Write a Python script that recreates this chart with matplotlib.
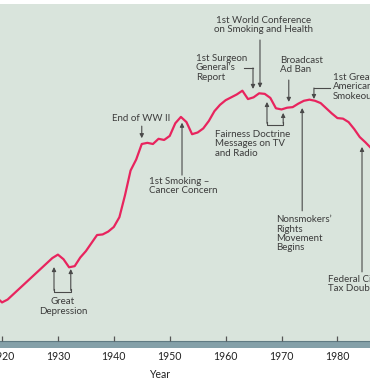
import matplotlib.pyplot as plt

# per capita cigarette consumption
years = [1919, 1920, 1921, 1922, 1923, 1924, 1925, 1926, 1927, 1928, 1929,
         1930, 1931, 1932, 1933, 1934, 1935, 1936, 1937, 1938, 1939,
         1940, 1941, 1942, 1943, 1944, 1945, 1946, 1947, 1948, 1949,
         1950, 1951, 1952, 1953, 1954, 1955, 1956, 1957, 1958, 1959,
         1960, 1961, 1962, 1963, 1964, 1965, 1966, 1967, 1968, 1969,
         1970, 1971, 1972, 1973, 1974, 1975, 1976, 1977, 1978, 1979,
         1980, 1981, 1982, 1983, 1984, 1985, 1986]
consumption = [760, 670, 720, 810, 900, 990, 1080, 1170, 1260, 1350, 1440,
               1500, 1420, 1280, 1300, 1450, 1560, 1700, 1840, 1850, 1900,
               1980, 2150, 2530, 2960, 3150, 3420, 3440, 3420, 3510, 3490,
               3560, 3780, 3890, 3800, 3590, 3620, 3690, 3820, 3990, 4100,
               4180, 4230, 4280, 4345, 4200, 4230, 4300, 4290, 4220, 4040,
               4020, 4050, 4060, 4120, 4170, 4190, 4170, 4130, 4040, 3950,
               3870, 3860, 3800, 3680, 3540, 3450, 3350]
tick_years = [1920, 1930, 1940, 1950, 1960, 1970, 1980]
tick_labels = ['1920', '1930', '1940', '1950', '1960', '1970', '1980']

BG = '#d9e4dc'
LINE = '#e8245e'
INK = '#3c3c3c'
ARROW = '#4a4a4a'
FONT = 'Lato'

fig = plt.figure(figsize=(3.7, 3.86), dpi=100)
ax = fig.add_axes([0, 38 / 386, 1, 344 / 386])
ax.set_facecolor(BG)
ax.set_xlim(1919.64, 1985.83)
ax.set_ylim(-121, 5850)
for s in ax.spines.values():
    s.set_visible(False)
ax.set_xticks([])
ax.set_yticks([])

# axis band and ticks
ax.axhspan(-121, 0, color='#84a0a8', lw=0)
ax.axhline(0, color='#5f7a82', lw=0.8)
ax.vlines(tick_years, 0, 90, color='#555555', lw=0.9)
for yr, lab in zip(tick_years, tick_labels):
    ax.text(yr, -260, lab, ha='center', va='center', fontsize=7.6,
            family=FONT, color='#222222', clip_on=False)
ax.text(1948.2, -585, 'Year', ha='center', va='center', fontsize=7.6,
        family=FONT, color='#222222', clip_on=False)

ax.plot(years, consumption, color=LINE, lw=1.6, solid_joinstyle='round')


def arrow(x0, y0, x1, y1):
    ax.annotate('', xy=(x1, y1), xytext=(x0, y0),
                arrowprops=dict(arrowstyle='-|>', color=ARROW, lw=0.8,
                                mutation_scale=6, shrinkA=0, shrinkB=0))


def label(x, y, s, ha='left'):
    ax.text(x, y, s, ha=ha, va='center', fontsize=7.0, family=FONT,
            color=INK, linespacing=1.05, clip_on=False)


label(1944.9, 3870, 'End of WW II', ha='center')
arrow(1945.0, 3730, 1945.0, 3520)

label(1946.3, 2690, '1st Smoking \u2013\nCancer Concern')
arrow(1952.2, 2880, 1952.2, 3790)

label(1966.7, 5490, '1st World Conference\non Smoking and Health', ha='center')
arrow(1966.15, 5225, 1966.15, 4395)

label(1954.7, 4740, '1st Surgeon\nGeneral\u2019s\nReport')
ax.plot([1963.3, 1964.9], [4740, 4740], color=ARROW, lw=0.8)
arrow(1964.9, 4740, 1964.9, 4375)

label(1969.7, 4790, 'Broadcast\nAd Ban')
arrow(1971.3, 4530, 1971.3, 4150)

label(1979.2, 4410, '1st Great\nAmerican\nSmokeout')
ax.plot([1978.7, 1975.8], [4392, 4392], color=ARROW, lw=0.8)
arrow(1975.8, 4392, 1975.8, 4200)

label(1958.1, 3420, 'Fairness Doctrine\nMessages on TV\nand Radio')
ax.plot([1967.4, 1967.4, 1970.3, 1970.3], [3800, 3750, 3750, 3800],
        color=ARROW, lw=0.8)
arrow(1967.4, 3780, 1967.4, 4150)
arrow(1970.3, 3780, 1970.3, 3960)

label(1969.0, 1860, 'Nonsmokers\u2019\nRights\nMovement\nBegins')
arrow(1973.7, 2260, 1973.7, 4045)

label(1978.3, 985, 'Federal Cigarette\nTax Doubles')
arrow(1984.4, 1200, 1984.4, 3370)

label(1930.9, 600, 'Great\nDepression', ha='center')
ax.plot([1929.3, 1929.3, 1932.3, 1932.3], [900, 851, 851, 900],
        color=ARROW, lw=0.8)
arrow(1929.3, 880, 1929.3, 1285)
arrow(1932.3, 880, 1932.3, 1250)

fig.savefig('out.png', dpi=100, facecolor='white')
